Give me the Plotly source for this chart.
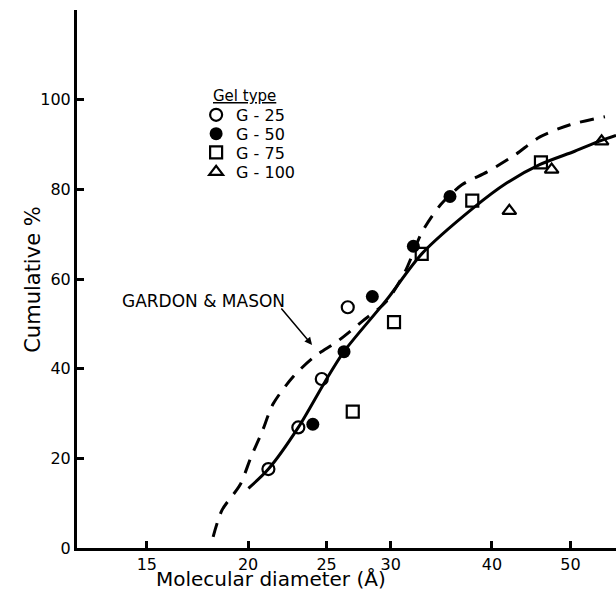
import math
import plotly.graph_objects as go

# Gel filtration data: molecular diameter (Å) vs cumulative %
g25_x = [21.19, 23.07, 24.66, 26.55]
g25_y = [17.6, 26.9, 37.7, 53.7]

g50_x = [24.04, 26.27, 28.47, 31.99, 35.50]
g50_y = [27.6, 43.8, 56.1, 67.3, 78.4]

g75_x = [26.93, 30.28, 32.76, 37.82, 45.97]
g75_y = [30.4, 50.4, 65.6, 77.5, 86.0]

g100_x = [42.02, 47.39, 54.62]
g100_y = [75.2, 84.4, 90.7]

# fitted curve (solid)
fit_x = [20.02, 21.19, 23.07, 24.89, 26.26, 29.66, 32.76, 37.91, 41.7, 45.8, 50.6, 54.4, 56.9]
fit_y = [13.3, 17.6, 26.9, 37.1, 43.8, 55.4, 65.6, 75.8, 81.4, 85.5, 88.5, 90.8, 92.0]

# Gardon & Mason curve (dashed)
gm_x = [18.11, 18.58, 19.55, 20.17, 20.81, 21.47, 22.73, 24.12, 25.83, 27.73,
        29.60, 31.24, 32.80, 34.58, 36.72, 39.46, 42.72, 45.84, 49.94, 55.14]
gm_y = [2.5, 8.5, 14.1, 20.3, 25.9, 32.1, 38.2, 42.6, 46.2, 50.7,
        54.9, 61.6, 70.5, 76.6, 81.0, 83.9, 87.7, 91.7, 94.4, 96.2]

x_ticks = [15, 20, 25, 30, 40, 50]
y_ticks = [0, 20, 40, 60, 80, 100]

FONT = "DejaVu Sans"
INK = "black"

fig = go.Figure()

fig.add_trace(go.Scatter(x=gm_x, y=gm_y, mode="lines", showlegend=False,
                         line=dict(color=INK, width=3, dash="14px,10px",
                                   shape="spline", smoothing=0.8),
                         hoverinfo="skip"))
fig.add_trace(go.Scatter(x=fit_x, y=fit_y, mode="lines", showlegend=False,
                         line=dict(color=INK, width=3, shape="spline", smoothing=0.8),
                         hoverinfo="skip"))

# one legend box per gel type so the key rows can sit tightly together
marker_line = dict(color=INK, width=2.2)
fig.add_trace(go.Scatter(x=g25_x, y=g25_y, mode="markers", name="G - 25",
                         legend="legend",
                         marker=dict(symbol="circle-open", size=12, color=INK,
                                     line=marker_line)))
fig.add_trace(go.Scatter(x=g50_x, y=g50_y, mode="markers", name="G - 50",
                         legend="legend2",
                         marker=dict(symbol="circle", size=13, color=INK,
                                     line=dict(color=INK, width=0))))
fig.add_trace(go.Scatter(x=g75_x, y=g75_y, mode="markers", name="G - 75",
                         legend="legend3",
                         marker=dict(symbol="square-open", size=12, color=INK,
                                     line=marker_line)))
fig.add_trace(go.Scatter(x=g100_x, y=g100_y, mode="markers", name="G - 100",
                         legend="legend4",
                         marker=dict(symbol="triangle-up-open", size=12, color=INK,
                                     line=marker_line)))

axis_common = dict(showline=True, linecolor=INK, linewidth=3, ticks="inside",
                   tickcolor=INK, tickwidth=2.5, ticklen=7, showgrid=False,
                   zeroline=False, tickfont=dict(family=FONT, size=16, color=INK))

fig.update_xaxes(type="log", range=[math.log10(12.3), math.log10(56.9)],
                 tickvals=x_ticks, ticktext=[str(v) for v in x_ticks], **axis_common)
fig.update_yaxes(range=[0, 120], tickvals=y_ticks,
                 ticktext=[str(v) for v in y_ticks], **axis_common)

# arrow pointing at the dashed curve
fig.add_annotation(x=math.log10(23.99), y=45.3, xref="x", yref="y",
                   text="", showarrow=True, ax=-32, ay=-38,
                   arrowhead=2, arrowsize=1, arrowwidth=1.5, arrowcolor=INK)
fig.add_annotation(x=math.log10(17.6), y=55.0, xref="x", yref="y",
                   text="GARDON & MASON", showarrow=False,
                   xanchor="center", yanchor="middle",
                   font=dict(family=FONT, size=17, color=INK))

# axis titles
fig.add_annotation(x=-0.082, y=0.5, xref="paper", yref="paper",
                   text="Cumulative %", textangle=-90, showarrow=False,
                   xanchor="center", yanchor="middle",
                   font=dict(family=FONT, size=21, color=INK))
fig.add_annotation(x=0.36, y=-0.057, xref="paper", yref="paper",
                   text="Molecular diameter (Å)", showarrow=False,
                   xanchor="center", yanchor="middle",
                   font=dict(family=FONT, size=20, color=INK))

# legend heading
fig.add_annotation(x=0.31, y=0.84, xref="paper", yref="paper",
                   text="<u>Gel type</u>", showarrow=False,
                   xanchor="center", yanchor="middle",
                   font=dict(family=FONT, size=15, color=INK))

key_style = dict(x=0.221, xanchor="left", yanchor="middle",
                 font=dict(family=FONT, size=16, color=INK),
                 bgcolor="rgba(0,0,0,0)", itemwidth=30)

fig.update_layout(
    width=616, height=590,
    margin=dict(l=77, r=0, t=10, b=42),
    paper_bgcolor="white", plot_bgcolor="white",
    legend=dict(y=0.805, **key_style),
    legend2=dict(y=0.770, **key_style),
    legend3=dict(y=0.735, **key_style),
    legend4=dict(y=0.699, **key_style),
)

fig.write_html("out.html")
